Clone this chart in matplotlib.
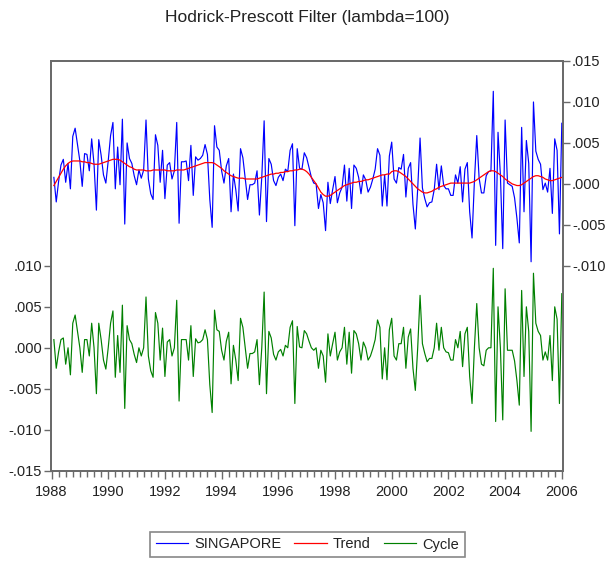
import matplotlib
matplotlib.use("Agg")
import matplotlib.pyplot as plt
from matplotlib.ticker import FuncFormatter, MultipleLocator, FixedLocator
import numpy as np

plt.rcParams['font.family'] = ['Liberation Sans', 'DejaVu Sans']

# monthly observations, 1988M2 .. 2006M1
start_year = 1988
n_obs = 216

# HP cycle component (lower panel, left axis)
cycle = [
    0.0010, -0.0025, -0.0005, 0.0010, 0.0012, -0.0020, 0.0000, -0.0033, 0.0030, 0.0040, 0.0020, 0.0000,
    -0.0030, 0.0010, 0.0010, -0.0010, 0.0030, 0.0000, -0.0056, 0.0030, 0.0010, -0.0015, -0.0026, 0.0000,
    0.0030, 0.0045, -0.0036, 0.0015, -0.0030, 0.0052, -0.0074, 0.0027, 0.0010, 0.0005, -0.0008, -0.0018,
    0.0000, -0.0010, 0.0000, 0.0062, -0.0010, -0.0028, -0.0036, 0.0043, 0.0030, -0.0015, 0.0024, -0.0035,
    0.0007, 0.0010, -0.0010, 0.0000, 0.0058, -0.0065, 0.0010, 0.0010, 0.0010, -0.0015, 0.0027, -0.0035,
    0.0011, 0.0006, 0.0007, 0.0010, 0.0022, 0.0010, -0.0045, -0.0079, 0.0046, 0.0022, 0.0020, -0.0003,
    -0.0015, 0.0008, 0.0019, -0.0044, 0.0003, -0.0015, -0.0040, 0.0036, 0.0025, 0.0000, -0.0025, -0.0007,
    -0.0007, -0.0005, 0.0010, -0.0045, 0.0000, 0.0068, -0.0056, 0.0020, 0.0012, -0.0008, -0.0015, -0.0005,
    -0.0002, -0.0010, 0.0003, 0.0000, 0.0025, 0.0033, -0.0068, 0.0026, 0.0001, 0.0000, 0.0021, 0.0017,
    0.0008, 0.0000, -0.0003, 0.0000, -0.0025, -0.0003, -0.0010, -0.0042, 0.0017, -0.0010, 0.0005, 0.0019,
    -0.0015, -0.0005, 0.0000, 0.0025, -0.0020, 0.0019, -0.0031, 0.0021, 0.0017, 0.0005, -0.0015, 0.0007,
    0.0000, -0.0015, -0.0010, -0.0001, 0.0010, 0.0034, 0.0025, -0.0038, 0.0000, -0.0039, 0.0022, 0.0036,
    -0.0010, -0.0015, 0.0005, 0.0005, 0.0025, -0.0025, 0.0013, 0.0023, -0.0025, -0.0052, 0.0000, 0.0064,
    0.0005, -0.0007, -0.0017, -0.0013, -0.0013, 0.0000, 0.0030, -0.0003, 0.0025, 0.0000, -0.0005, -0.0006,
    -0.0015, -0.0015, 0.0010, 0.0000, 0.0020, -0.0023, 0.0017, 0.0025, -0.0035, -0.0068, 0.0000, 0.0054,
    0.0000, -0.0020, -0.0022, -0.0003, 0.0000, 0.0000, 0.0097, -0.0090, 0.0050, 0.0000, -0.0088, 0.0072,
    -0.0003, -0.0003, -0.0003, -0.0016, -0.0040, -0.0070, 0.0070, -0.0035, 0.0050, 0.0020, -0.0102, 0.0091,
    0.0030, 0.0020, 0.0015, -0.0015, -0.0005, -0.0015, 0.0015, -0.0040, 0.0050, 0.0035, -0.0068, 0.0066,
]

# HP trend component (upper panel, right axis)
trend = [
    -0.0002, 0.0003, 0.0008, 0.0013, 0.0018, 0.0022, 0.0025, 0.0027, 0.0028, 0.0028, 0.0028, 0.0028,
    0.0027, 0.0027, 0.0026, 0.0026, 0.0025, 0.0024, 0.0024, 0.0024, 0.0025, 0.0026, 0.0027, 0.0028,
    0.0029, 0.0030, 0.0030, 0.0030, 0.0029, 0.0027, 0.0025, 0.0023, 0.0021, 0.0020, 0.0018, 0.0017,
    0.0017, 0.0017, 0.0017, 0.0016, 0.0016, 0.0016, 0.0017, 0.0017, 0.0017, 0.0017, 0.0017, 0.0017,
    0.0016, 0.0016, 0.0016, 0.0016, 0.0017, 0.0017, 0.0017, 0.0017, 0.0018, 0.0019, 0.0020, 0.0021,
    0.0022, 0.0023, 0.0024, 0.0025, 0.0026, 0.0026, 0.0026, 0.0026, 0.0025, 0.0023, 0.0021, 0.0019,
    0.0016, 0.0014, 0.0012, 0.0010, 0.0009, 0.0008, 0.0007, 0.0007, 0.0007, 0.0006, 0.0006, 0.0006,
    0.0006, 0.0006, 0.0006, 0.0007, 0.0008, 0.0009, 0.0010, 0.0011, 0.0012, 0.0012, 0.0013, 0.0013,
    0.0014, 0.0014, 0.0015, 0.0015, 0.0016, 0.0016, 0.0017, 0.0017, 0.0018, 0.0018, 0.0017, 0.0015,
    0.0012, 0.0008, 0.0004, 0.0000, -0.0005, -0.0010, -0.0013, -0.0015, -0.0015, -0.0014, -0.0012, -0.0010,
    -0.0008, -0.0006, -0.0004, -0.0002, -0.0001, 0.0000, 0.0001, 0.0002, 0.0002, 0.0003, 0.0003, 0.0004,
    0.0005, 0.0005, 0.0006, 0.0007, 0.0008, 0.0009, 0.0010, 0.0011, 0.0011, 0.0012, 0.0012, 0.0015,
    0.0016, 0.0016, 0.0015, 0.0013, 0.0011, 0.0009, 0.0006, 0.0003, 0.0000, -0.0003, -0.0006, -0.0008,
    -0.0010, -0.0011, -0.0011, -0.0010, -0.0009, -0.0007, -0.0006, -0.0004, -0.0003, -0.0002, -0.0001, 0.0000,
    0.0001, 0.0001, 0.0001, 0.0001, 0.0001, 0.0001, 0.0001, 0.0001, 0.0001, 0.0002, 0.0003, 0.0005,
    0.0007, 0.0009, 0.0011, 0.0013, 0.0015, 0.0016, 0.0016, 0.0015, 0.0013, 0.0011, 0.0009, 0.0006,
    0.0004, 0.0002, 0.0000, -0.0001, -0.0002, -0.0002, -0.0001, 0.0001, 0.0003, 0.0005, 0.0007, 0.0009,
    0.0010, 0.0010, 0.0009, 0.0008, 0.0006, 0.0005, 0.0004, 0.0004, 0.0005, 0.0006, 0.0007, 0.0008,
]

series_labels = ["SINGAPORE", "Trend", "Cycle"]
title = "Hodrick-Prescott Filter (lambda=100)"

cycle = np.array(cycle)
trend = np.array(trend)
singapore = trend + cycle
dates = start_year + np.arange(1, n_obs + 1) / 12.0

frame_col = "#6a6a6a"
text_col = "#222222"


def eviews_fmt(v, pos):
    # .010 / -.005 style labels, no leading zero
    if abs(v) < 1e-9:
        v = 0.0
    s = "%.3f" % v
    return s.replace("0.", ".", 1)


fig = plt.figure(figsize=(6.06, 5.63), dpi=100)
ax = fig.add_axes([51 / 606, 92.3 / 563, 512 / 606, 409.7 / 563])
ax2 = ax.twinx()

ax.plot(dates, cycle, color="#008000", lw=0.85)
ax2.plot(dates, singapore, color="#0000ff", lw=0.85)
ax2.plot(dates, trend, color="#ff0000", lw=0.9)

ax.set_xlim(1987.982, 1987.982 + 512 / 28.35)
ax.set_ylim(-0.015, 0.035)
ax2.set_ylim(-0.035, 0.015)

ax.yaxis.set_major_locator(FixedLocator([-0.015, -0.010, -0.005, 0.0, 0.005, 0.010]))
ax2.yaxis.set_major_locator(FixedLocator([-0.010, -0.005, 0.0, 0.005, 0.010, 0.015]))
ax.yaxis.set_major_formatter(FuncFormatter(eviews_fmt))
ax2.yaxis.set_major_formatter(FuncFormatter(eviews_fmt))

ax.xaxis.set_major_locator(MultipleLocator(2))
ax.xaxis.set_minor_locator(MultipleLocator(0.25))
ax.xaxis.set_major_formatter(FuncFormatter(lambda v, p: "%d" % round(v)))

for a in (ax, ax2):
    for sp in a.spines.values():
        sp.set_color(frame_col)
        sp.set_linewidth(1.3)
    a.tick_params(axis="both", which="both", direction="out", color=frame_col,
                  labelsize=10.5, labelcolor=text_col, width=1)
    a.tick_params(axis="y", length=5, pad=1.5)
ax.tick_params(axis="x", which="major", length=6, pad=4)
ax.tick_params(axis="x", which="minor", length=4)

fig.suptitle(title, x=0.5 * (51 + 563) / 606, y=1 - 10 / 563, va="top",
             fontsize=12.5, color=text_col)

handles = ax2.get_lines() + ax.get_lines()
leg = fig.legend(handles, series_labels, loc="center", ncol=3,
                 bbox_to_anchor=(307.5 / 606, 1 - 544.5 / 563),
                 fontsize=10.5, frameon=True, fancybox=False, handlelength=2.2,
                 columnspacing=0.9, handletextpad=0.45, borderpad=0.35)
leg.get_frame().set_edgecolor(frame_col)
leg.get_frame().set_linewidth(1.2)
for t in leg.get_texts():
    t.set_color(text_col)

fig.savefig("out.png", dpi=100)
